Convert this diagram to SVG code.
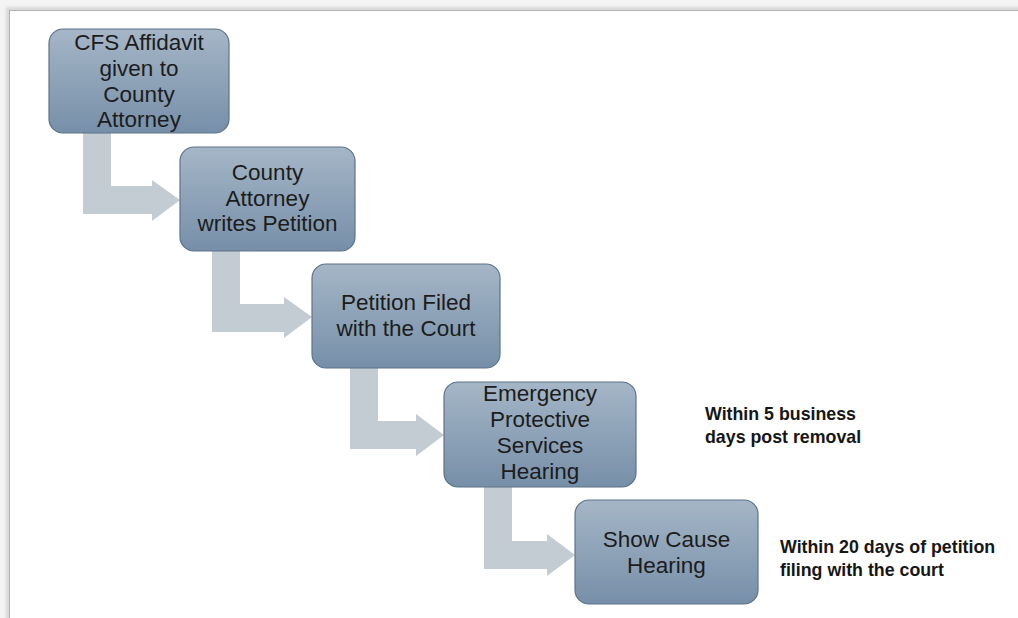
<svg xmlns="http://www.w3.org/2000/svg" width="1018" height="618" viewBox="0 0 1018 618">
<defs>
<linearGradient id="g" x1="0" y1="0" x2="0" y2="1">
<stop offset="0" stop-color="#a5b6c7"/>
<stop offset="1" stop-color="#768fa8"/>
</linearGradient>
<filter id="sh" x="-5%" y="-5%" width="110%" height="110%">
<feGaussianBlur stdDeviation="1.5"/>
</filter>
<style>
.box{fill:url(#g);stroke:#5d7388;stroke-width:1.2}
.t{font-family:"Liberation Sans",Arial,sans-serif;font-size:22.5px;fill:#1c1c1c;text-anchor:middle}
.n{font-family:"Liberation Sans",Arial,sans-serif;font-size:17.8px;font-weight:bold;fill:#161616}
.ar{fill:#c3cbd3}
</style>
</defs>
<rect width="1018" height="618" fill="#f4f4f4"/>
<rect x="6" y="7" width="1020" height="620" fill="#d8d8d8" filter="url(#sh)"/>
<rect x="9.5" y="10.5" width="1020" height="620" fill="#ffffff" stroke="#b3b3b3" stroke-width="1"/>
<g id="connectors">
<path class="ar" d="M83,133 H111 V186 H152 V180 L180,200 L152,221 V214 H83 Z"/>
<path class="ar" d="M212,251 H240 V304 H284 V297 L312,317 L284,338 V332 H212 Z"/>
<path class="ar" d="M350,368 H378 V421 H416 V414 L444,435 L416,456 V449 H350 Z"/>
<path class="ar" d="M484,487 H512 V541 H547 V534 L575,555 L547,576 V569 H484 Z"/>
</g>
<g id="n1">
<rect class="box" x="49" y="29" width="180" height="104" rx="14"/>
<text class="t" x="139" y="50">CFS Affidavit</text>
<text class="t" x="139" y="76">given to</text>
<text class="t" x="139" y="102">County</text>
<text class="t" x="139" y="127">Attorney</text>
</g>
<g id="n2">
<rect class="box" x="180" y="147" width="175" height="104" rx="14"/>
<text class="t" x="267.5" y="180">County</text>
<text class="t" x="267.5" y="206">Attorney</text>
<text class="t" x="267.5" y="231">writes Petition</text>
</g>
<g id="n3">
<rect class="box" x="312" y="264" width="188" height="104" rx="14"/>
<text class="t" x="406" y="310">Petition Filed</text>
<text class="t" x="406" y="336">with the Court</text>
</g>
<g id="n4">
<rect class="box" x="444" y="382" width="192" height="105" rx="14"/>
<text class="t" x="540" y="401">Emergency</text>
<text class="t" x="540" y="427">Protective</text>
<text class="t" x="540" y="453">Services</text>
<text class="t" x="540" y="479">Hearing</text>
</g>
<g id="n5">
<rect class="box" x="575" y="500" width="183" height="104" rx="14"/>
<text class="t" x="666.5" y="547">Show Cause</text>
<text class="t" x="666.5" y="573">Hearing</text>
</g>
<g id="note1">
<text class="n" x="705" y="420">Within 5 business</text>
<text class="n" x="705" y="443">days post removal</text>
</g>
<g id="note2">
<text class="n" x="780" y="553">Within 20 days of petition</text>
<text class="n" x="780" y="576">filing with the court</text>
</g>
</svg>
